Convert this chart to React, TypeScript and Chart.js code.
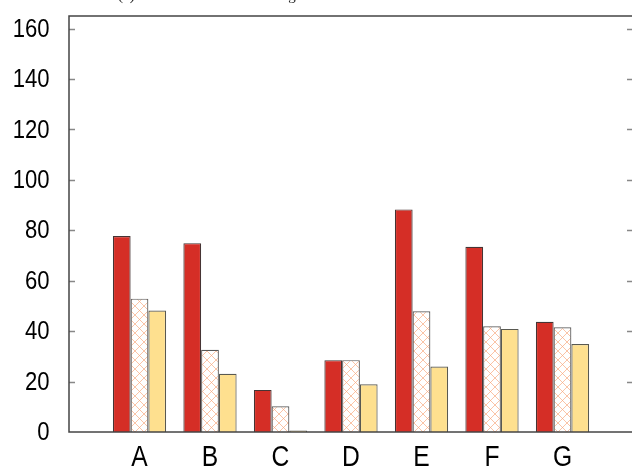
import React, { useEffect, useRef } from "react";
import { Chart, registerables } from "chart.js";

Chart.register(...registerables);

const categories = ["", "A", "B", "C", "D", "E", "F", "G", ""];
const seriesRed = [null, 77.7, 74.9, 16.7, 28.5, 88.3, 73.5, 43.7, null];
const seriesHatch = [null, 52.9, 32.6, 10.2, 28.5, 47.9, 41.9, 41.5, null];
const seriesYellow = [null, 48.2, 23.1, 0.6, 18.9, 26.0, 40.9, 34.9, null];
const yTicks = [0, 20, 40, 60, 80, 100, 120, 140, 160];
const titleText = "(a) Relative Execution Change";

const labelFamily = '"Liberation Sans", Arial, sans-serif';
const squeeze = 0.85;

function makeHatch(): CanvasPattern | string {
  const c = document.createElement("canvas");
  const s = 9;
  c.width = s;
  c.height = s;
  const ctx = c.getContext("2d");
  if (!ctx) return "#ffffff";
  ctx.fillStyle = "#ffffff";
  ctx.fillRect(0, 0, s, s);
  ctx.strokeStyle = "rgba(248,165,120,0.65)";
  ctx.lineWidth = 1;
  ctx.beginPath();
  ctx.moveTo(0, 0);
  ctx.lineTo(s, s);
  ctx.moveTo(0, s);
  ctx.lineTo(s, 0);
  ctx.stroke();
  const p = ctx.createPattern(c, "repeat");
  return p || "#ffffff";
}

export default function App() {
  const ref = useRef<HTMLCanvasElement>(null);

  useEffect(() => {
    if (!ref.current) return;
    const hatch = makeHatch();

    const framePlugin = {
      id: "frame",
      afterDatasetsDraw(chart: any) {
        const { ctx, chartArea } = chart;
        const y = chart.scales.y;
        const x = chart.scales.x;
        ctx.save();
        ctx.strokeStyle = "#888";
        ctx.lineWidth = 1.6;
        yTicks.forEach((v) => {
          if (v === 0) return;
          const py = Math.round(y.getPixelForValue(v)) + 0.5;
          ctx.beginPath();
          ctx.moveTo(chartArea.left, py);
          ctx.lineTo(chartArea.left + 6, py);
          ctx.moveTo(chartArea.right - 6, py);
          ctx.lineTo(chartArea.right, py);
          ctx.stroke();
        });
        ctx.strokeStyle = "#444";
        ctx.lineWidth = 1.5;
        ctx.strokeRect(chartArea.left, chartArea.top, chartArea.right - chartArea.left, chartArea.bottom - chartArea.top);

        // y tick labels (slightly condensed, as in the reference)
        ctx.fillStyle = "#000";
        ctx.font = `26px ${labelFamily}`;
        ctx.textAlign = "right";
        ctx.textBaseline = "middle";
        yTicks.forEach((v) => {
          const py = y.getPixelForValue(v);
          ctx.save();
          ctx.translate(chartArea.left - 19.5, py + 1);
          ctx.scale(squeeze, 1);
          ctx.fillText(String(v), 0, 0);
          ctx.restore();
        });

        // x category labels
        ctx.font = `29px ${labelFamily}`;
        ctx.textAlign = "center";
        ctx.textBaseline = "alphabetic";
        categories.forEach((c, i) => {
          if (!c) return;
          const px = x.getPixelForValue(i);
          ctx.save();
          ctx.translate(px, chartArea.bottom + 34);
          ctx.scale(squeeze, 1);
          ctx.fillText(c, 0, 0);
          ctx.restore();
        });
        ctx.restore();
      },
      afterDraw(chart: any) {
        const { ctx } = chart;
        ctx.save();
        ctx.fillStyle = "#222";
        ctx.font = '15px "Liberation Serif", serif';
        ctx.textBaseline = "alphabetic";
        ctx.textAlign = "left";
        ctx.fillText(titleText, 118, 0);
        ctx.restore();
      },
    };

    const chart = new Chart(ref.current, {
      type: "bar",
      data: {
        labels: categories,
        datasets: [
          {
            data: seriesRed,
            backgroundColor: "#d52e26",
            borderColor: "rgba(50,30,30,0.9)",
            borderWidth: 1.2,
          },
          {
            data: seriesHatch,
            backgroundColor: hatch as any,
            borderColor: "rgba(60,60,60,0.85)",
            borderWidth: 1.2,
          },
          {
            data: seriesYellow,
            backgroundColor: "#fee08f",
            borderColor: "rgba(60,60,50,0.85)",
            borderWidth: 1.2,
          },
        ],
      },
      options: {
        responsive: false,
        animation: false,
        devicePixelRatio: 1,
        layout: { padding: { top: 16, right: 7, bottom: 0, left: 0 } },
        plugins: { legend: { display: false }, tooltip: { enabled: false }, title: { display: false } },
        datasets: { bar: { categoryPercentage: 0.755, barPercentage: 1 } },
        scales: {
          x: {
            offset: false,
            grid: { display: false, drawTicks: false },
            border: { display: false },
            ticks: { display: false, autoSkip: false },
            afterFit: (s: any) => {
              s.height = 36;
              s.paddingLeft = 0;
              s.paddingRight = 0;
            },
          },
          y: {
            min: 0,
            max: 165,
            grid: { display: false, drawTicks: false },
            border: { display: false },
            ticks: { display: false, stepSize: 20, includeBounds: false },
            afterFit: (s: any) => {
              s.width = 69;
              s.paddingTop = 0;
              s.paddingBottom = 0;
            },
          },
        },
      },
      plugins: [framePlugin],
    });
    return () => chart.destroy();
  }, []);

  return (
    <div style={{ position: "fixed", left: 0, top: 0, width: 632, height: 468, overflow: "hidden", background: "#fff" }}>
      <canvas ref={ref} width={640} height={468} style={{ display: "block" }} />
    </div>
  );
}
